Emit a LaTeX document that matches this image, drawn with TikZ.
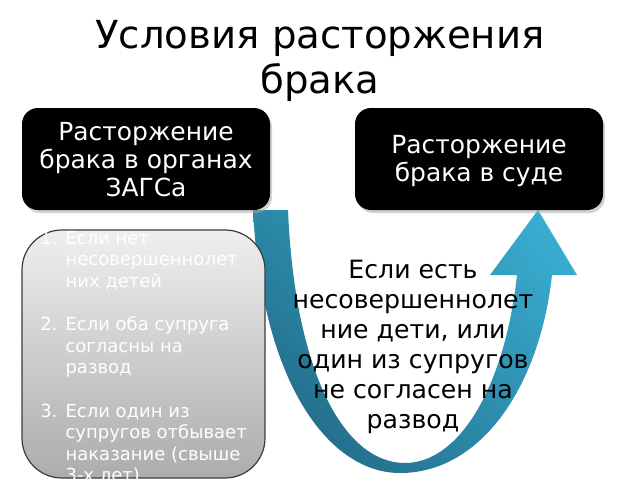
\documentclass[tikz,border=0pt]{standalone}
\usepackage{fontspec}
\setmainfont{DejaVu Sans}
\usetikzlibrary{shadings}
\definecolor{arrDark}{HTML}{1F5F7A}
\definecolor{arrMid}{HTML}{2A88A7}
\definecolor{arrMid2}{HTML}{2E93B4}
\definecolor{arrLight}{HTML}{3BB3D7}
\definecolor{grayTop}{HTML}{EFEFEF}
\definecolor{grayBot}{HTML}{ACACAC}
\definecolor{grayEdge}{HTML}{3C3C3C}
\tikzset{
  blackbox/.style={fill=black, rounded corners=12},
  boxshadow/.style={fill=black!35, opacity=0.5, rounded corners=12},
  boxtext/.style={text=white, align=center, font=\fontsize{18.7}{21}\selectfont, inner sep=0pt},
  listtext/.style={text=white, align=left, font=\fontsize{13.5}{16.2}\selectfont, inner sep=0pt, anchor=north west},
  midtext/.style={text=black, align=center, font=\fontsize{18.9}{22.6}\selectfont, inner sep=0pt},
  titletext/.style={text=black, align=center, font=\fontsize{29}{34}\selectfont, inner sep=0pt}
}
\begin{document}
\begin{tikzpicture}[x=0.75pt,y=-0.75pt]
\useasboundingbox (0,0) rectangle (640,480);
\fill[white] (0,0) rectangle (640,480);
% title
\node[titletext] (title) at (320,61) {Условия расторжения\\брака};
% arrow
\shade[upper left=arrMid, upper right=arrLight, lower left=arrDark, lower right=arrMid2]
  (253,210) .. controls (262,385) and (330,473) .. (400,473)
  .. controls (482,473) and (540,385) .. (552,275)
  -- (577,275) -- (538,210) -- (490,275) -- (517,275)
  .. controls (505,385) and (460,463) .. (405,463)
  .. controls (345,463) and (295,375) .. (288,210) -- cycle;
\coordinate (arrowtip) at (538,210);
% black boxes
\fill[boxshadow] (24,111) rectangle (272,213);
\fill[boxshadow] (357,111) rectangle (605,213);
\fill[blackbox] (22,108) rectangle (270,210);
\fill[blackbox] (355,108) rectangle (603,210);
\node[boxtext] (left) at (146,160) {Расторжение\\брака в органах\\ЗАГСа};
\node[boxtext] (right) at (479,161) {Расторжение\\брака в суде};
% gray list box
\shade[top color=grayTop, bottom color=grayBot, rounded corners=30]
  (22,230) rectangle (265,478);
\draw[grayEdge, line width=0.9pt, rounded corners=30] (22,230) rectangle (265,478);
\node[listtext] (list) at (40,229) {%
\begin{tabular}{@{}r@{\hspace{0.45em}}l@{}}
1. & Если нет\\
   & несовершеннолет\\
   & них детей\\[16.2pt]
2. & Если оба супруга\\
   & согласны на\\
   & развод\\[16.2pt]
3. & Если один из\\
   & супругов отбывает\\
   & наказание (свыше\\
   & 3-х лет)
\end{tabular}};
% middle text
\node[midtext] (mid) at (413,347) {Если есть\\несовершеннолет\\ние дети, или\\один из супругов\\не согласен на\\развод};
\end{tikzpicture}
\end{document}
